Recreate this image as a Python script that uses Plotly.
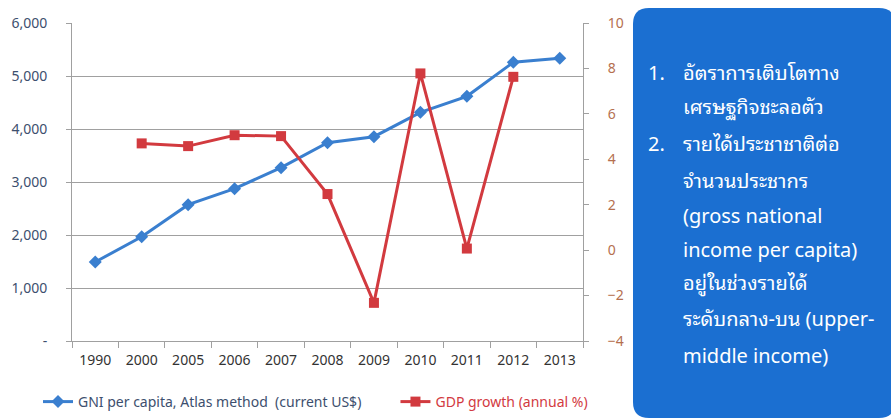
import plotly.graph_objects as go

years = ["1990", "2000", "2005", "2006", "2007", "2008", "2009", "2010", "2011", "2012", "2013"]
gni = [1490, 1968, 2572, 2874, 3270, 3740, 3855, 4315, 4617, 5258, 5334]
gdp_years = ["2000", "2005", "2006", "2007", "2008", "2009", "2010", "2011", "2012"]
gdp = [4.70, 4.58, 5.06, 5.02, 2.47, -2.32, 7.78, 0.07, 7.63]

left_vals = [0, 1000, 2000, 3000, 4000, 5000, 6000]
left_text = ["-", "1,000", "2,000", "3,000", "4,000", "5,000", "6,000"]
right_vals = [-4, -2, 0, 2, 4, 6, 8, 10]

box_lines = [
    ("1.", "อัตราการเติบโตทาง"),
    ("", "เศรษฐกิจชะลอตัว"),
    ("2.", "รายได้ประชาชาติต่อ"),
    ("", "จำนวนประชากร"),
    ("", "(gross national"),
    ("", "income per capita)"),
    ("", "อยู่ในช่วงรายได้"),
    ("", "ระดับกลาง-บน (upper-"),
    ("", "middle income)"),
]

W, H = 891, 420
L, R, T, B = 72, 583, 23, 341
PW, PH = R - L, B - T

def px(x):
    return (x - L) / PW

def py(y):
    return (B - y) / PH

BLUE = "#3a7fcf"
RED = "#d23a3f"
GRID = "#a0a0a0"
TXT = "#3d4f6e"
RTXT = "#b5704f"
FONT = "Noto Sans, Noto Sans Thai, Open Sans, sans-serif"
BOXFONT = "Noto Sans, Noto Sans Thai Looped, Loma, Noto Sans Thai, sans-serif"

fig = go.Figure()
fig.add_trace(go.Scatter(
    x=years, y=gni, mode="lines+markers",
    name="<span style='color:%s'>GNI per capita, Atlas method  (current US$)</span>&nbsp;&nbsp;&nbsp;&nbsp;&nbsp;&nbsp;&nbsp;&nbsp;" % TXT,
    line=dict(color=BLUE, width=3),
    marker=dict(symbol="diamond", size=10, color=BLUE),
    yaxis="y",
))
fig.add_trace(go.Scatter(
    x=gdp_years, y=gdp, mode="lines+markers",
    name="<span style='color:%s'>GDP growth (annual %%)</span>" % RED,
    line=dict(color=RED, width=3),
    marker=dict(symbol="square", size=10, color=RED),
    yaxis="y2",
))

# rounded blue box
x0, x1, y0, y1 = 633, 895, 8, 418
r = 16
def P(x, y):
    return "%f,%f" % (px(x), py(y))
path = ("M " + P(x0 + r, y0) + " L " + P(x1 - r, y0) + " Q " + P(x1, y0) + " " + P(x1, y0 + r)
        + " L " + P(x1, y1 - r) + " Q " + P(x1, y1) + " " + P(x1 - r, y1)
        + " L " + P(x0 + r, y1) + " Q " + P(x0, y1) + " " + P(x0, y1 - r)
        + " L " + P(x0, y0 + r) + " Q " + P(x0, y0) + " " + P(x0 + r, y0) + " Z")
fig.add_shape(type="path", path=path, xref="paper", yref="paper",
              fillcolor="#1b6fd1", line=dict(width=0), layer="above")

line_y = [73, 107, 143, 180, 215, 249, 283, 318, 355]
for (num, txt), yy in zip(box_lines, line_y):
    if num:
        fig.add_annotation(x=px(646), y=py(yy), xref="paper", yref="paper", text=num,
                           showarrow=False, xanchor="left", yanchor="middle",
                           font=dict(family=BOXFONT, size=20, color="white"))
    fig.add_annotation(x=px(681), y=py(yy), xref="paper", yref="paper", text=txt,
                       showarrow=False, xanchor="left", yanchor="middle",
                       font=dict(family=BOXFONT, size=20, color="white"))

fig.update_layout(
    width=W, height=H,
    margin=dict(l=L, r=W - R, t=T, b=H - B, autoexpand=False),
    paper_bgcolor="white", plot_bgcolor="white",
    font=dict(family=FONT, size=14, color=TXT),
    showlegend=True,
    legend=dict(orientation="h", x=px(38), y=py(402), xanchor="left", yanchor="middle",
                font=dict(family=FONT, size=14), bgcolor="rgba(0,0,0,0)",
                itemwidth=30, tracegroupgap=0),
    xaxis=dict(type="category", categoryorder="array", categoryarray=years,
               range=[-0.5, len(years) - 0.5],
               showline=True, linecolor=GRID, linewidth=1,
               ticks="outside", tickson="boundaries", ticklen=6, tickcolor=GRID,
               showgrid=False, tickfont=dict(size=14, color="#333333"),
               ticklabelstandoff=6),
    yaxis=dict(range=[0, 6000], tickvals=left_vals, ticktext=left_text,
               showline=True, linecolor=GRID, linewidth=1,
               showgrid=True, gridcolor=GRID, gridwidth=1,
               ticks="outside", ticklen=5, tickcolor=GRID,
               tickfont=dict(size=14, color=TXT), ticklabelstandoff=16,
               zeroline=False),
    yaxis2=dict(range=[-4, 10], tickvals=right_vals, overlaying="y", side="right",
                showline=True, linecolor=GRID, linewidth=1,
                showgrid=False, ticks="outside", ticklen=5, tickcolor=GRID,
                tickfont=dict(size=14, color=RTXT), ticklabelstandoff=16,
                zeroline=False),
)

fig.write_html("out.html", config={"displayModeBar": False},
               post_script="document.body.style.margin='0px';document.body.style.overflow='hidden';")
